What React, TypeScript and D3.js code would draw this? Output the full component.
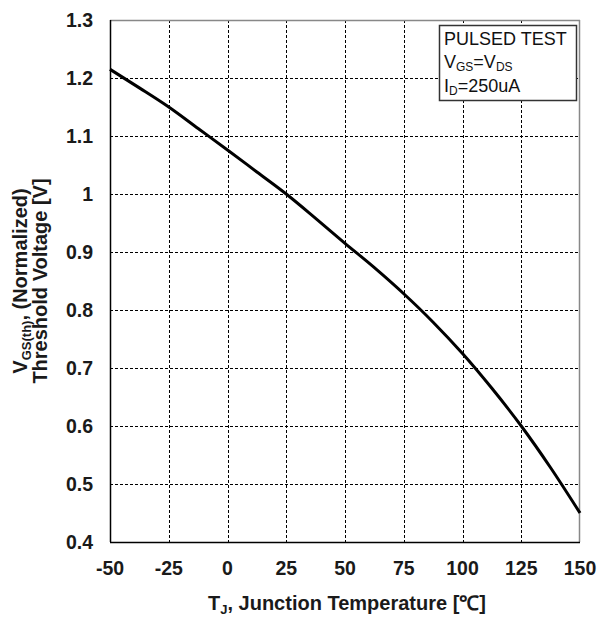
import React, { useRef, useEffect } from 'react'
import * as d3 from 'd3'

// Junction temperature (°C) and normalized threshold voltage
const temps = [-50, -37.5, -25, -12.5, 0, 12.5, 25, 37.5, 50, 62.5, 75, 87.5, 100, 112.5, 125, 137.5, 150]
const vth = [1.215, 1.183, 1.15, 1.113, 1.076, 1.038, 1.0, 0.958, 0.915, 0.873, 0.828, 0.779, 0.725, 0.665, 0.6, 0.528, 0.45]

const xTicks = [-50, -25, 0, 25, 50, 75, 100, 125, 150]
const yTicks = [0.4, 0.5, 0.6, 0.7, 0.8, 0.9, 1, 1.1, 1.2, 1.3]

const legendLines = ['PULSED TEST', 'VGS=VDS', 'ID=250uA']

const W = 598
const H = 618
const FONT = '"Liberation Sans", Arial, sans-serif'

const App: React.FC = () => {
  const ref = useRef<SVGSVGElement>(null)

  useEffect(() => {
    if (!ref.current) return
    const svg = d3.select(ref.current)
    svg.selectAll('*').remove()

    const left = 110, right = 580, top = 20, bottom = 542

    const x = d3.scaleLinear().domain([-50, 150]).range([left, right])
    const y = d3.scaleLinear().domain([0.4, 1.3]).range([bottom, top])

    svg.append('rect').attr('width', W).attr('height', H).attr('fill', '#fff')

    // grid
    const grid = svg.append('g')
      .attr('stroke', '#000')
      .attr('stroke-width', 1)
      .attr('stroke-dasharray', '3,2')
    grid.selectAll('line.v')
      .data(xTicks.slice(1, -1))
      .join('line')
      .attr('x1', d => Math.round(x(d)) + 0.5)
      .attr('x2', d => Math.round(x(d)) + 0.5)
      .attr('y1', top)
      .attr('y2', bottom)
    grid.selectAll('line.h')
      .data(yTicks.slice(1, -1))
      .enter()
      .append('line')
      .attr('x1', left)
      .attr('x2', right)
      .attr('y1', d => Math.round(y(d)) + 0.5)
      .attr('y2', d => Math.round(y(d)) + 0.5)

    // frame: top/right gray, left/bottom black
    svg.append('line').attr('x1', left).attr('x2', right).attr('y1', top + 0.5).attr('y2', top + 0.5)
      .attr('stroke', '#888').attr('stroke-width', 1.5)
    svg.append('line').attr('x1', right - 0.5).attr('x2', right - 0.5).attr('y1', top).attr('y2', bottom)
      .attr('stroke', '#888').attr('stroke-width', 1.5)
    svg.append('line').attr('x1', left + 0.5).attr('x2', left + 0.5).attr('y1', top).attr('y2', bottom)
      .attr('stroke', '#000').attr('stroke-width', 1.5)
    svg.append('line').attr('x1', left).attr('x2', right).attr('y1', bottom + 0.5).attr('y2', bottom + 0.5)
      .attr('stroke', '#000').attr('stroke-width', 1.5)

    // curve
    const pts = temps.map((t, i) => [t, vth[i]] as [number, number])
    const line = d3.line<[number, number]>()
      .x(d => x(d[0]))
      .y(d => y(d[1]))
      .curve(d3.curveMonotoneX)
    svg.append('path')
      .attr('d', line(pts) || '')
      .attr('fill', 'none')
      .attr('stroke', '#000')
      .attr('stroke-width', 3)

    const bold = (sel: d3.Selection<any, any, any, any>, size = 20) =>
      sel.style('font-family', FONT)
        .style('font-size', `${size}px`)
        .style('font-weight', 'bold')
        .style('fill', '#1a1a1a')

    // tick labels
    bold(svg.append('g')
      .selectAll('text')
      .data(yTicks)
      .join('text')
      .attr('x', 93)
      .attr('y', d => y(d) + 7)
      .attr('text-anchor', 'end')
      .text(d => String(d)), 19.5)

    bold(svg.append('g')
      .selectAll('text')
      .data(xTicks)
      .join('text')
      .attr('x', d => x(d))
      .attr('y', 575)
      .attr('text-anchor', 'middle')
      .text(d => String(d)), 19.5)

    // x axis title
    const xt = bold(svg.append('text')
      .attr('x', (left + right) / 2 + 2)
      .attr('y', 610)
      .attr('text-anchor', 'middle'))
    xt.append('tspan').text('T')
    xt.append('tspan').attr('dy', 4).style('font-size', '13px').text('J')
    xt.append('tspan').attr('dy', -4).text(', Junction Temperature [\u2103]')

    // y axis title (two lines, rotated)
    const cy = (top + bottom) / 2
    const yt1 = bold(svg.append('text')
      .attr('transform', `translate(27,${cy}) rotate(-90)`)
      .attr('text-anchor', 'middle'))
    yt1.append('tspan').text('V')
    yt1.append('tspan').attr('dy', 4).style('font-size', '13px').text('GS(th)')
    yt1.append('tspan').attr('dy', -4).text(', (Normalized)')
    bold(svg.append('text')
      .attr('transform', `translate(47,${cy}) rotate(-90)`)
      .attr('text-anchor', 'middle')
      .text('Threshold Voltage [V]'))

    // legend box
    const lg = svg.append('g')
    lg.append('rect')
      .attr('x', 439.5).attr('y', 25.5).attr('width', 137).attr('height', 75)
      .attr('fill', '#fff').attr('stroke', '#333').attr('stroke-width', 1.5)
    const reg = (sel: d3.Selection<any, any, any, any>) =>
      sel.style('font-family', FONT).style('font-size', '18px').style('fill', '#111')
    reg(lg.append('text').attr('x', 444).attr('y', 45)).text(legendLines[0])
    const l2 = reg(lg.append('text').attr('x', 444).attr('y', 68))
    l2.append('tspan').text('V')
    l2.append('tspan').attr('dy', 3).style('font-size', '12px').text('GS')
    l2.append('tspan').attr('dy', -3).text('=V')
    l2.append('tspan').attr('dy', 3).style('font-size', '12px').text('DS')
    const l3 = reg(lg.append('text').attr('x', 444).attr('y', 92))
    l3.append('tspan').text('I')
    l3.append('tspan').attr('dy', 3).style('font-size', '12px').text('D')
    l3.append('tspan').attr('dy', -3).text('=250uA')
  }, [])

  return (
    <svg
      ref={ref}
      width={W}
      height={H}
      style={{ position: 'absolute', left: 0, top: 0, display: 'block' }}
    />
  )
}

export default App
